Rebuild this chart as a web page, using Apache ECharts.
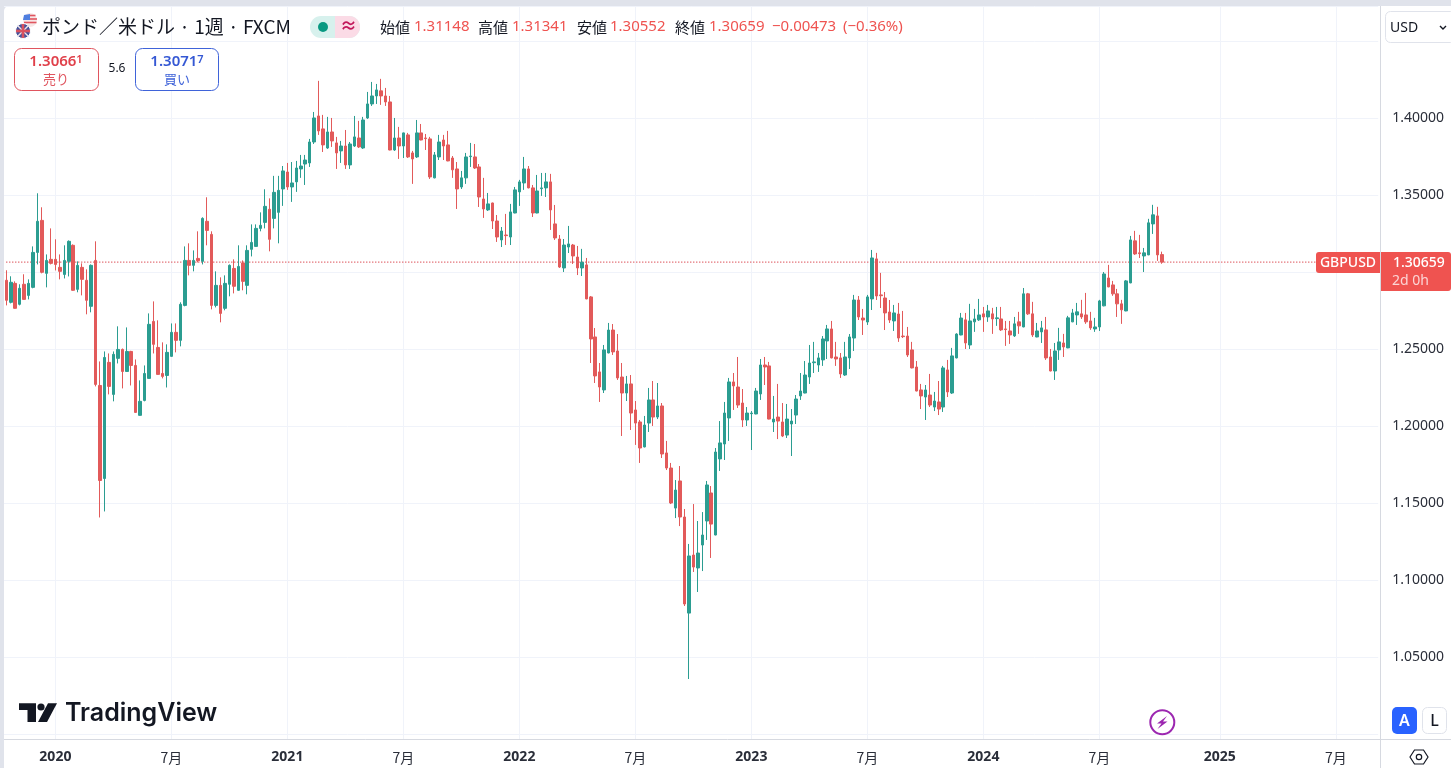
<!DOCTYPE html>
<html lang="ja">
<head>
<meta charset="utf-8">
<title>GBPUSD</title>
<style>html,body{margin:0;padding:0;background:#e0e3eb;overflow:hidden}#c{width:1451px;height:768px}</style>
<script src="https://cdn.jsdelivr.net/npm/echarts@6/dist/echarts.min.js"></script>
</head>
<body>
<div id="c"></div>
<script>
const opens = [
1.2948,1.2805,1.2928,1.2792,1.2922,1.2850,1.2902,1.3129,1.3337,1.2993,
1.3084,1.3084,1.3032,1.2986,1.3071,1.3175,1.2889,1.3032,1.2948,1.2779,
1.3077,1.2265,1.1661,1.2415,1.2207,1.2441,1.2499,1.2356,1.2486,1.2395,
1.2071,1.2168,1.2311,1.2681,1.2512,1.2343,1.2330,1.2454,1.2610,1.2558,
1.2785,1.3077,1.3045,1.3090,1.3071,1.3331,1.3246,1.2785,1.2915,1.2766,
1.2922,1.3025,1.2883,1.3060,1.2915,1.3149,1.3168,1.3285,1.3324,1.3409,
1.3350,1.3389,1.3541,1.3651,1.3554,1.3587,1.3671,1.3703,1.3710,1.3846,
1.4015,1.3931,1.3807,1.3911,1.3840,1.3788,1.3820,1.3697,1.3820,1.3872,
1.3807,1.4002,1.4093,1.4145,1.4178,1.4145,1.4106,1.3794,1.3872,1.3820,
1.3892,1.3775,1.3749,1.3905,1.3872,1.3866,1.3613,1.3749,1.3859,1.3827,
1.3742,1.3671,1.3554,1.3613,1.3751,1.3749,1.3684,1.3476,1.3405,1.3450,
1.3333,1.3210,1.3242,1.3229,1.3385,1.3522,1.3580,1.3671,1.3548,1.3385,
1.3543,1.3548,1.3587,1.3314,1.3216,1.3028,1.3164,1.3177,1.3099,1.3028,
1.3048,1.2840,1.2580,1.2353,1.2236,1.2476,1.2625,1.2489,1.2320,1.2216,
1.2275,1.2106,1.2028,1.1866,1.2021,1.2171,1.2060,1.2132,1.1827,1.1729,
1.1469,1.1645,1.1411,1.0787,1.1164,1.1080,1.1229,1.1385,1.1567,1.1294,
1.1788,1.1885,1.2054,1.2288,1.2255,1.2151,1.2041,1.2082,1.2080,1.2210,
1.2398,1.2392,1.2028,1.2060,1.2028,1.1943,1.2015,1.2073,1.2197,1.2216,
1.2320,1.2413,1.2398,1.2431,1.2554,1.2632,1.2450,1.2444,1.2333,1.2444,
1.2573,1.2820,1.2703,1.2677,1.2827,1.3087,1.2853,1.2833,1.2742,1.2684,
1.2729,1.2586,1.2586,1.2496,1.2385,1.2236,1.2190,1.2203,1.2125,1.2158,
1.2125,1.2366,1.2216,1.2444,1.2593,1.2691,1.2528,1.2678,1.2691,1.2730,
1.2710,1.2730,1.2699,1.2697,1.2632,1.2619,1.2587,1.2678,1.2645,1.2860,
1.2730,1.2580,1.2613,1.2626,1.2450,1.2359,1.2496,1.2541,1.2509,1.2678,
1.2723,1.2730,1.2723,1.2684,1.2632,1.2645,1.2782,1.2963,1.2918,1.2860,
1.2795,1.2749,1.2931,1.3204,1.3126,1.3106,1.3113,1.3314,1.3366,1.31148];
const closes = [
1.2818,1.2935,1.2766,1.2896,1.2824,1.2928,1.3129,1.3331,1.3000,1.3077,
1.3058,1.3051,1.3006,1.3077,1.3201,1.2883,1.3045,1.2954,1.2818,1.3045,
1.2272,1.1648,1.2447,1.2259,1.2467,1.2499,1.2356,1.2486,1.2395,1.2090,
1.2162,1.2343,1.2662,1.2532,1.2337,1.2324,1.2480,1.2610,1.2558,1.2792,
1.3077,1.3045,1.3077,1.3075,1.3350,1.3272,1.2785,1.2915,1.2733,1.2928,
1.3045,1.2909,1.3038,1.2941,1.3142,1.3194,1.3285,1.3305,1.3428,1.3214,
1.3519,1.3532,1.3658,1.3554,1.3580,1.3677,1.3690,1.3729,1.3846,1.4002,
1.3918,1.3827,1.3911,1.3853,1.3775,1.3820,1.3697,1.3833,1.3879,1.3814,
1.3989,1.4093,1.4145,1.4184,1.4145,1.4106,1.3794,1.3872,1.3820,1.3905,
1.3749,1.3736,1.3905,1.3859,1.3868,1.3619,1.3762,1.3846,1.3820,1.3723,
1.3665,1.3541,1.3613,1.3749,1.3755,1.3677,1.3489,1.3411,1.3444,1.3333,
1.3229,1.3268,1.3238,1.3392,1.3535,1.3587,1.3671,1.3548,1.3385,1.3528,
1.3548,1.3587,1.3405,1.3223,1.3034,1.3177,1.3184,1.3106,1.3028,1.3065,
1.2827,1.2567,1.2327,1.2255,1.2496,1.2625,1.2483,1.2314,1.2216,1.2275,
1.2086,1.2021,1.1859,1.2008,1.2171,1.2060,1.2132,1.1820,1.1729,1.1502,
1.1586,1.1411,1.0846,1.1158,1.1086,1.1177,1.1294,1.1619,1.1365,1.1833,
1.1892,1.2086,1.2288,1.2262,1.2138,1.2041,1.2086,1.2086,1.2229,1.2398,
1.2385,1.2047,1.2047,1.2034,1.1937,1.2047,1.2034,1.2177,1.2229,1.2333,
1.2411,1.2418,1.2444,1.2567,1.2632,1.2444,1.2437,1.2340,1.2450,1.2580,
1.2820,1.2710,1.2690,1.2840,1.3093,1.2846,1.2848,1.2736,1.2690,1.2736,
1.2573,1.2582,1.2463,1.2379,1.2229,1.2197,1.2236,1.2138,1.2164,1.2112,
1.2379,1.2223,1.2457,1.2599,1.2703,1.2541,1.2684,1.2697,1.2723,1.2710,
1.2749,1.2697,1.2704,1.2626,1.2628,1.2593,1.2665,1.2652,1.2860,1.2730,
1.2593,1.2619,1.2639,1.2444,1.2359,1.2489,1.2548,1.2515,1.2704,1.2736,
1.2743,1.2710,1.2678,1.2639,1.2645,1.2814,1.2989,1.2905,1.2860,1.2795,
1.2756,1.2944,1.3210,1.3119,1.3121,1.3126,1.3321,1.3373,1.3113,1.30659];
const lows = [
1.2785,1.2798,1.2764,1.2785,1.2822,1.2824,1.2896,1.3051,1.2993,1.2902,
1.3051,1.3012,1.2954,1.2960,1.2973,1.2880,1.2870,1.2850,1.2727,1.2740,
1.2259,1.1408,1.1447,1.2207,1.2162,1.2408,1.2246,1.2354,1.2265,1.2088,
1.2069,1.2162,1.2309,1.2473,1.2335,1.2311,1.2252,1.2452,1.2480,1.2519,
1.2779,1.2980,1.3006,1.3064,1.3051,1.3175,1.2759,1.2772,1.2675,1.2753,
1.2844,1.2863,1.2880,1.2883,1.2857,1.3103,1.3166,1.3266,1.3285,1.3136,
1.3285,1.3188,1.3431,1.3535,1.3457,1.3522,1.3613,1.3567,1.3684,1.3833,
1.3892,1.3781,1.3801,1.3814,1.3671,1.3710,1.3671,1.3671,1.3814,1.3807,
1.3801,1.3996,1.4080,1.4093,1.4087,1.4080,1.3792,1.3788,1.3736,1.3742,
1.3742,1.3574,1.3742,1.3857,1.3794,1.3606,1.3610,1.3729,1.3729,1.3721,
1.3613,1.3411,1.3541,1.3574,1.3684,1.3671,1.3424,1.3353,1.3398,1.3281,
1.3197,1.3164,1.3177,1.3177,1.3383,1.3431,1.3535,1.3545,1.3359,1.3383,
1.3496,1.3489,1.3275,1.3210,1.3028,1.3002,1.3125,1.3054,1.2982,1.2976,
1.2825,1.2411,1.2281,1.2158,1.2216,1.2474,1.2463,1.2301,1.1937,1.2164,
1.1976,1.1879,1.1762,1.1863,1.1963,1.2002,1.2047,1.1794,1.1716,1.1495,
1.1404,1.1352,1.0833,1.0359,1.1054,1.0924,1.1060,1.1262,1.1145,1.1292,
1.1710,1.1781,1.1905,1.2106,1.2119,1.1995,1.2002,1.1846,1.2078,1.2171,
1.2268,1.2045,1.1963,1.1917,1.1930,1.1924,1.1807,1.2015,1.2171,1.2214,
1.2275,1.2346,1.2353,1.2392,1.2437,1.2441,1.2392,1.2314,1.2327,1.2372,
1.2489,1.2690,1.2593,1.2658,1.2755,1.2820,1.2768,1.2625,1.2671,1.2619,
1.2548,1.2573,1.2450,1.2376,1.2227,1.2112,1.2041,1.2125,1.2099,1.2073,
1.2093,1.2190,1.2210,1.2441,1.2591,1.2502,1.2502,1.2613,1.2684,1.2613,
1.2678,1.2600,1.2652,1.2619,1.2522,1.2535,1.2580,1.2600,1.2643,1.2723,
1.2580,1.2578,1.2541,1.2431,1.2357,1.2301,1.2431,1.2450,1.2507,1.2676,
1.2658,1.2697,1.2665,1.2626,1.2613,1.2619,1.2779,1.2903,1.2847,1.2710,
1.2665,1.2747,1.2929,1.3113,1.3093,1.3002,1.3111,1.3249,1.3074,1.30552];
const highs = [
1.3013,1.2974,1.2941,1.2922,1.2987,1.2954,1.3168,1.3513,1.3422,1.3116,
1.3285,1.3214,1.3116,1.3175,1.3207,1.3181,1.3071,1.3058,1.3019,1.3051,
1.3201,1.2421,1.2486,1.2473,1.2486,1.2649,1.2505,1.2642,1.2490,1.2434,
1.2298,1.2395,1.2733,1.2811,1.2688,1.2545,1.2532,1.2668,1.2668,1.2805,
1.3168,1.3188,1.3142,1.3266,1.3357,1.3487,1.3266,1.3006,1.2967,1.2980,
1.3051,1.3084,1.3175,1.3077,1.3175,1.3311,1.3311,1.3389,1.3539,1.3480,
1.3626,1.3626,1.3690,1.3710,1.3716,1.3723,1.3762,1.3762,1.3866,1.4041,
1.4243,1.4022,1.4009,1.4002,1.3879,1.3853,1.3924,1.3846,1.4015,1.3983,
1.4009,1.4171,1.4236,1.4223,1.4256,1.4197,1.4145,1.4002,1.3944,1.3907,
1.3905,1.3788,1.3989,1.3963,1.3898,1.3879,1.3781,1.3892,1.3892,1.3918,
1.3755,1.3716,1.3658,1.3775,1.3840,1.3833,1.3703,1.3613,1.3515,1.3452,
1.3372,1.3294,1.3379,1.3444,1.3554,1.3600,1.3749,1.3690,1.3567,1.3632,
1.3645,1.3645,1.3639,1.3437,1.3242,1.3216,1.3301,1.3184,1.3171,1.3152,
1.3093,1.2846,1.2638,1.2411,1.2528,1.2671,1.2664,1.2599,1.2411,1.2327,
1.2333,1.2164,1.2041,1.2067,1.2249,1.2294,1.2281,1.2151,1.1905,1.1762,
1.1651,1.1742,1.1463,1.1236,1.1495,1.1385,1.1443,1.1645,1.1612,1.1859,
1.2034,1.2158,1.2314,1.2346,1.2450,1.2242,1.2125,1.2099,1.2249,1.2437,
1.2450,1.2418,1.2197,1.2275,1.2151,1.2145,1.2112,1.2203,1.2346,1.2424,
1.2528,1.2548,1.2476,1.2586,1.2658,1.2684,1.2548,1.2476,1.2548,1.2599,
1.2853,1.2846,1.2762,1.2853,1.3145,1.3126,1.2996,1.2872,1.2820,1.2788,
1.2801,1.2749,1.2645,1.2548,1.2424,1.2275,1.2268,1.2340,1.2223,1.2294,
1.2392,1.2431,1.2509,1.2604,1.2736,1.2736,1.2795,1.2762,1.2827,1.2775,
1.2788,1.2769,1.2775,1.2775,1.2684,1.2684,1.2710,1.2743,1.2898,1.2866,
1.2808,1.2671,1.2684,1.2710,1.2502,1.2541,1.2639,1.2600,1.2717,1.2762,
1.2801,1.2821,1.2866,1.2743,1.2704,1.2821,1.3002,1.3048,1.2944,1.2892,
1.2821,1.2950,1.3236,1.3269,1.3243,1.3158,1.3347,1.3438,1.3425,1.31341];

const tickWeeks  = ['2020-01-06','2020-07-06','2021-01-04','2021-07-05','2022-01-03','2022-07-04','2023-01-02','2023-07-03','2024-01-01','2024-07-01','2025-01-06','2025-07-07'];
const tickLabels = ['2020','7月','2021','7月','2022','7月','2023','7月','2024','7月','2025','7月'];
const lastClose = 1.30659;

// weekly category axis, including the empty weeks to the right of the last candle
const weeks = [];
for (let i = 0; i < 308; i++) {
  weeks.push(new Date(Date.UTC(2019, 9, 21 + i * 7)).toISOString().slice(0, 10));
}
const tickIdx = new Set(tickWeeks.map(w => weeks.indexOf(w)));
const showTick = i => tickIdx.has(i);
const candles = opens.map((o, i) => [o, closes[i], lows[i], highs[i]]);

const RED = '#ef5350', BAR_RED = '#e25a5a', BAR_GREEN = '#2b9d91', GRID = '#f0f3fa', EDGE = '#d6d9e0', INK = '#131722', BLUE = '#2962ff';
const NUM = '"Noto Sans","Noto Sans CJK JP",sans-serif';
const CJK = '"Noto Sans CJK JP","Noto Sans",sans-serif';

const t = (text, x, y, size, fill, opt = {}) => ({
  type: 'text', z: 20,
  style: Object.assign({ text, x, y, fill, textAlign: 'left', textVerticalAlign: 'middle',
    font: `${opt.weight || 400} ${size}px ${opt.family || NUM}` }, opt.style || {})
});
const line = (x1, y1, x2, y2, stroke, w = 1, z = 15) => ({ type: 'line', z, shape: { x1, y1, x2, y2 }, style: { stroke, lineWidth: w } });
const box = (x, y, width, height, r, fill, stroke, z = 15) => ({ type: 'rect', z, shape: { x, y, width, height, r }, style: { fill, stroke: stroke || null, lineWidth: 1 } });
const poly = (points, fill, z = 16) => ({ type: 'polygon', z, shape: { points }, style: { fill } });

const hdr = [['始値', 380, '1.31148', 414], ['高値', 478, '1.31341', 512], ['安値', 577, '1.30552', 610], ['終値', 675, '1.30659', 709]];

const graphic = [
  box(4, 6, 1460, 780, [5, 0, 0, 0], '#ffffff', null, -10),
  line(1380.5, 6, 1380.5, 768, EDGE),
  line(4, 739.5, 1451, 739.5, EDGE),

  // flags
  { type: 'circle', z: 16, shape: { cx: 30, cy: 20, r: 7 }, style: { fill: '#f7e6e6' } },
  line(30, 15.5, 35.5, 15.5, '#e0555f', 1.6, 17), line(30, 19, 37, 19, '#e0555f', 1.6, 17), line(24, 22.5, 36.5, 22.5, '#e0555f', 1.6, 17),
  poly([[24, 15], [30, 14], [30, 20], [23, 20]], '#4f7fe0', 17),
  { type: 'circle', z: 18, shape: { cx: 23, cy: 31, r: 7.5 }, style: { fill: '#46549c', stroke: '#fff', lineWidth: 1 } },
  line(18, 26, 28, 36, '#f0e3e6', 1.4, 19), line(28, 26, 18, 36, '#f0e3e6', 1.4, 19),
  line(16, 31, 30, 31, '#d9525f', 2.6, 19), line(23, 24, 23, 38, '#d9525f', 2.6, 19),

  // title
  t('ポンド／米ドル · 1週 · FXCM', 42, 27, 19, INK, { family: CJK }),

  // status pill
  box(310, 16, 50, 22, 11, '#d7f1ed'),
  { type: 'rect', z: 15, shape: { x: 335, y: 16, width: 25, height: 22, r: [0, 11, 11, 0] }, style: { fill: '#fbdbe6' } },
  { type: 'circle', z: 16, shape: { cx: 323, cy: 27, r: 5 }, style: { fill: '#089981' } },
  t('≈', 340, 27, 17, '#c2185b', { weight: 700 }),

  // OHLC header
  ...hdr.flatMap(([k, kx, v, vx]) => [t(k, kx, 27, 15, INK, { family: CJK }), t(v, vx, 27, 15, RED)]),
  t('−0.00473', 772, 27, 15, RED),
  t('(−0.36%)', 843, 27, 15, RED),

  // sell and buy
  box(14.5, 48.5, 84, 42, 7, '#fff', '#e0555f'),
  { type: 'text', z: 20, style: { text: '{a|1.3066}{b|1}', x: 56, y: 62, textAlign: 'center', textVerticalAlign: 'middle',
    rich: { a: { fill: '#e0404a', font: `600 15px ${NUM}` }, b: { fill: '#e0404a', font: `600 11px ${NUM}`, verticalAlign: 'top', lineHeight: 15 } } } },
  t('売り', 56, 79, 13, '#e0555f', { family: CJK, style: { textAlign: 'center' } }),
  t('5.6', 117, 69, 12, INK, { style: { textAlign: 'center' } }),
  box(135.5, 48.5, 83, 42, 7, '#fff', '#3f63d9'),
  { type: 'text', z: 20, style: { text: '{a|1.3071}{b|7}', x: 177, y: 62, textAlign: 'center', textVerticalAlign: 'middle',
    rich: { a: { fill: '#3558d4', font: `600 15px ${NUM}` }, b: { fill: '#3558d4', font: `600 11px ${NUM}`, verticalAlign: 'top', lineHeight: 15 } } } },
  t('買い', 177, 79, 13, '#3f63d9', { family: CJK, style: { textAlign: 'center' } }),

  // currency selector
  box(1385.5, 11.5, 70, 31, 5, '#fff', '#e0e3eb'),
  t('USD', 1390, 28, 14, INK),
  { type: 'polyline', z: 20, shape: { points: [[1440, 26], [1443, 29], [1446, 26]] }, style: { stroke: INK, lineWidth: 1.4, fill: null } },

  // last price tags
  { type: 'rect', z: 18, shape: { x: 1316, y: 252, width: 64, height: 21, r: [3, 0, 0, 3] }, style: { fill: RED } },
  t('GBPUSD', 1348, 263, 14, '#fff', { weight: 500, style: { textAlign: 'center' } }),
  { type: 'rect', z: 18, shape: { x: 1381, y: 252, width: 70, height: 39, r: [0, 3, 3, 0] }, style: { fill: RED } },
  t('1.30659', 1393, 263, 14, '#fff', { weight: 500 }),
  t('2d 0h', 1392, 281, 14, '#fbd5d5'),

  // TradingView logo
  poly([[19, 703.3], [36, 703.3], [36, 722], [27.5, 722], [27.5, 710], [19, 710]], INK),
  { type: 'circle', z: 16, shape: { cx: 41, cy: 707, r: 3.6 }, style: { fill: INK } },
  poly([[48, 703.3], [57, 703.3], [47, 722], [38, 722]], INK),
  t('TradingView', 65, 713, 25, INK, { weight: 600, family: 'Inter,"Noto Sans",sans-serif' }),

  // bolt
  { type: 'circle', z: 16, shape: { cx: 1162.3, cy: 722.3, r: 12 }, style: { fill: '#fff', stroke: '#9c27b0', lineWidth: 2 } },
  poly([[1167, 716], [1157, 723.5], [1161.5, 723.5], [1157.5, 729], [1167.5, 721.5], [1163, 721.5]], '#9c27b0'),

  // scale buttons
  box(1392, 707, 25, 27, 5, BLUE),
  t('A', 1404.5, 721, 16, '#fff', { weight: 600, style: { textAlign: 'center' } }),
  box(1422.5, 707.5, 24, 26, 5, '#fff', '#e0e3eb'),
  t('L', 1434.5, 721, 16, INK, { weight: 500, style: { textAlign: 'center' } }),

  // settings
  { type: 'polygon', z: 16, shape: { points: [[1410, 757], [1414.5, 750], [1423.5, 750], [1428, 757], [1423.5, 764], [1414.5, 764]] }, style: { fill: '#fff', stroke: INK, lineWidth: 1.2 } },
  { type: 'circle', z: 17, shape: { cx: 1419, cy: 757, r: 2.7 }, style: { fill: '#fff', stroke: INK, lineWidth: 1.2 } }
];

const chart = echarts.init(document.getElementById('c'), null, { renderer: 'canvas', width: 1451, height: 768 });
chart.setOption({
  animation: false,
  backgroundColor: '#e0e3eb',
  grid: { left: 4.07, top: 6, width: 1374.14, height: 728.3, containLabel: false },
  xAxis: {
    type: 'category', data: weeks, boundaryGap: true,
    axisLine: { show: false },
    axisTick: { show: true, interval: showTick, alignWithLabel: true, length: 5, inside: false, lineStyle: { color: GRID } },
    axisLabel: {
      interval: showTick, margin: 16, hideOverlap: false,
      formatter: v => {
        const label = tickLabels[tickWeeks.indexOf(v)];
        return /月/.test(label) ? `{m|${label}}` : `{y|${label}}`;
      },
      rich: {
        y: { fontFamily: NUM, fontSize: 14, fontWeight: 700, color: '#2a2e39' },
        m: { fontFamily: CJK, fontSize: 14, color: '#2a2e39' }
      }
    },
    splitLine: { show: true, interval: showTick, alignWithLabel: true, lineStyle: { color: GRID, width: 1 } }
  },
  yAxis: {
    type: 'value', position: 'right', min: 1.0, max: 1.4729, interval: 0.05, scale: true,
    axisLine: { show: false }, axisTick: { show: false },
    axisLabel: {
      margin: 14, fontFamily: NUM, fontSize: 14, color: '#2a2e39', padding: [3, 0, 0, 0],
      formatter: v => (v >= 1.04 && v <= 1.41 ? v.toFixed(5) : '')
    },
    splitLine: { show: true, lineStyle: { color: GRID, width: 1 } }
  },
  series: [{
    type: 'line', name: 'last', silent: true, showSymbol: false, symbol: 'none', z: 1,
    data: [[weeks[0], lastClose], [weeks[weeks.length - 1], lastClose]],
    lineStyle: { color: '#d83a42', type: [1, 2], width: 1.2 }
  }, {
    type: 'candlestick', data: candles, barWidth: 3, silent: true, z: 2,
    itemStyle: { color: BAR_GREEN, color0: BAR_RED, borderColor: BAR_GREEN, borderColor0: BAR_RED, borderWidth: 1 }
  }],
  graphic
});
</script>
</body>
</html>
